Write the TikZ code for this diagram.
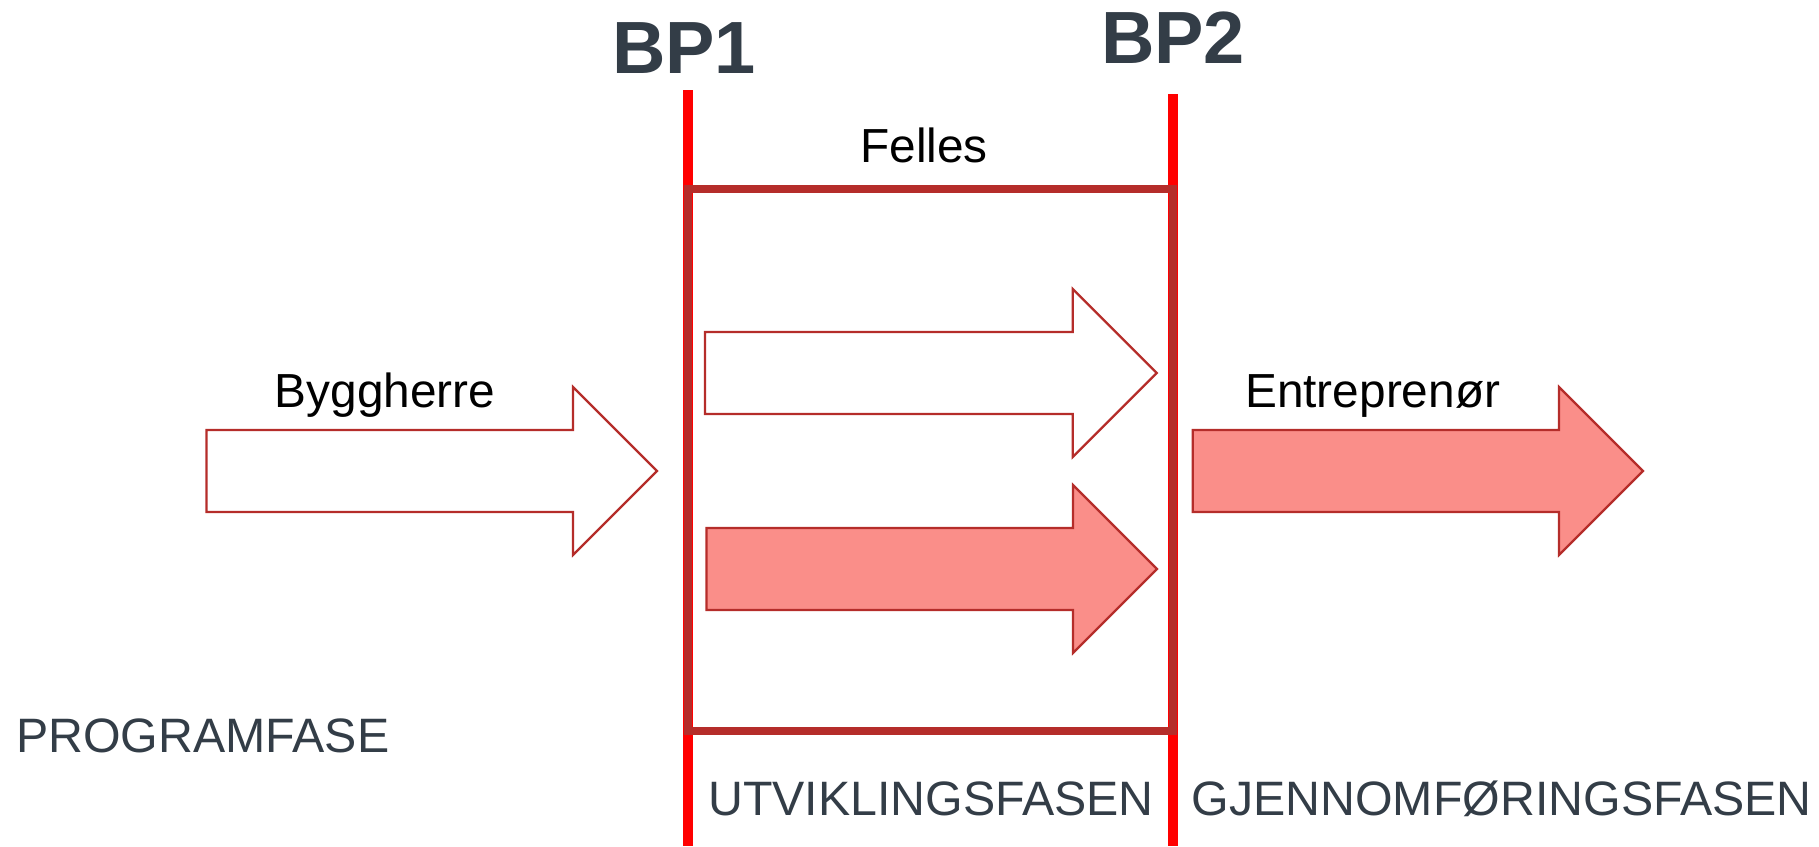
\documentclass[tikz,border=0pt]{standalone}
\usepackage{fontspec}
\setmainfont{Liberation Sans}
\definecolor{bpred}{HTML}{FF0000}
\definecolor{darkred}{HTML}{B52D2A}
\definecolor{pinkfill}{HTML}{FA8E89}
\definecolor{slate}{HTML}{333D47}
\tikzset{
  bpline/.style={draw=bpred, line width=10pt},
  boxline/.style={draw=darkred, line width=8pt},
  hollowarrow/.style={draw=darkred, line width=2.2pt, fill=white, line join=miter},
  filledarrow/.style={draw=darkred, line width=2.2pt, fill=pinkfill, line join=miter},
  lbl/.style={inner sep=0pt, font=\fontsize{47.8}{56}\selectfont, text=black},
  phase/.style={inner sep=0pt, font=\fontsize{48.3}{56}\selectfont, text=slate},
  bp/.style={inner sep=0pt, font=\fontsize{74}{88}\selectfont\bfseries, text=slate},
}
% #1 left x, #2 head base x, #3 center y, #4 style
\newcommand{\blockarrow}[4]{%
  \draw[#4] (#1,#3-41) -- (#2,#3-41) -- (#2,#3-84) -- (#2+84,#3) -- (#2,#3+84) -- (#2,#3+41) -- (#1,#3+41) -- cycle;}
\begin{document}
\begin{tikzpicture}[x=1pt,y=-1pt]
\useasboundingbox (0,0) rectangle (1819,846);
% BP lines
\coordinate (bp1top) at (688,90);
\coordinate (bp1bot) at (688,846);
\coordinate (bp2top) at (1172.5,94);
\coordinate (bp2bot) at (1172.5,846);
\draw[bpline] (bp1top) -- (bp1bot);
\draw[bpline] (bp2top) -- (bp2bot);
% box
\draw[boxline] (688,188.5) rectangle (1172.5,731);
% arrows
\blockarrow{206.5}{573}{471}{hollowarrow}
\blockarrow{705}{1072.7}{373}{hollowarrow}
\blockarrow{706.5}{1073}{569}{filledarrow}
\blockarrow{1192.7}{1559}{471}{filledarrow}
% labels
\node[bp, anchor=base] (bp1) at (684,73) {BP1};
\node[bp, anchor=base] (bp2) at (1173,63) {BP2};
\node[lbl, anchor=base] (felles) at (924,162.7) {Felles};
\node[lbl, anchor=base] (bygg) at (385,407) {Byggherre};
\node[lbl, anchor=base west] (entr) at (1245,407) {Entreprenør};
\node[phase, anchor=base west] (prog) at (16,752) {PROGRAMFASE};
\node[phase, anchor=base west] (utv) at (708,815) {UTVIKLINGSFASEN};
\node[phase, anchor=base west] (gjen) at (1191.5,815) {GJENNOMFØRINGSFASEN};
\end{tikzpicture}
\end{document}
